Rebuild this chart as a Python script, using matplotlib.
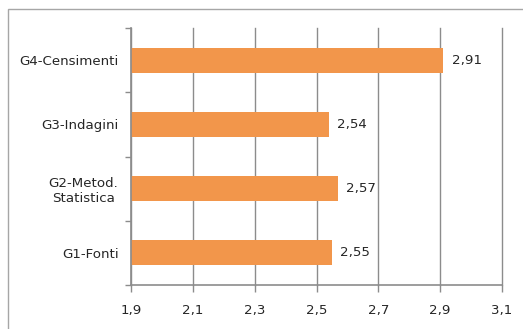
import matplotlib.pyplot as plt
from matplotlib.patches import Rectangle
import numpy as np

categories = ["G1-Fonti", "G2-Metod.\nStatistica", "G3-Indagini", "G4-Censimenti"]
values = [2.55, 2.57, 2.54, 2.91]
xticks = [1.9, 2.1, 2.3, 2.5, 2.7, 2.9, 3.1]

bar_color = "#F2964B"
grid_color = "#8C8C8C"
text_color = "#262626"

plt.rcParams["font.family"] = ["DejaVu Sans"]

fig = plt.figure(figsize=(5.23, 3.29), dpi=100)
W, H = 523, 329

# chart frame (only the top and left edges fall inside the image)
fig.patches.append(Rectangle((8 / W, -0.1), 1.2, 1 - 9 / H + 0.1, transform=fig.transFigure,
                             fill=False, edgecolor="#A6A6A6", linewidth=1.0))

ax = fig.add_axes([131 / W, 1 - 285 / H, (502 - 131) / W, (285 - 28) / H])

y = np.arange(len(categories))
ax.barh(y, values, height=0.39, left=0, color=bar_color, zorder=3)

ax.set_xlim(1.9, 3.1)
ax.set_ylim(-0.5, len(categories) - 0.5)

fs = 9.6
ax.set_xticks(xticks)
ax.set_xticklabels([f"{t:.1f}".replace(".", ",") for t in xticks], fontsize=fs, color=text_color)
ax.set_yticks(y)
ax.set_yticklabels(categories, fontsize=fs, color=text_color, multialignment="center")
ax.set_yticks(np.arange(-0.5, len(categories), 1.0), minor=True)

ax.tick_params(axis="y", which="major", length=0, pad=9)
ax.tick_params(axis="y", which="minor", length=4, color=grid_color, width=1.0)
ax.tick_params(axis="x", which="major", length=5, color=grid_color, width=1.0, pad=9)

ax.grid(axis="x", color=grid_color, linewidth=1.0, zorder=0)
for gl in ax.get_xgridlines():
    gl.set_clip_on(False)
for s in ["top", "right"]:
    ax.spines[s].set_visible(False)
for s in ["left", "bottom"]:
    ax.spines[s].set_color(grid_color)
    ax.spines[s].set_linewidth(1.2)
    ax.spines[s].set_zorder(4)

for yi, v in zip(y, values):
    ax.annotate(f"{v:.2f}".replace(".", ","), xy=(v, yi), xytext=(6, 0),
                textcoords="offset points", va="center", ha="left",
                fontsize=fs, color=text_color)

fig.savefig("out.png", dpi=100)
